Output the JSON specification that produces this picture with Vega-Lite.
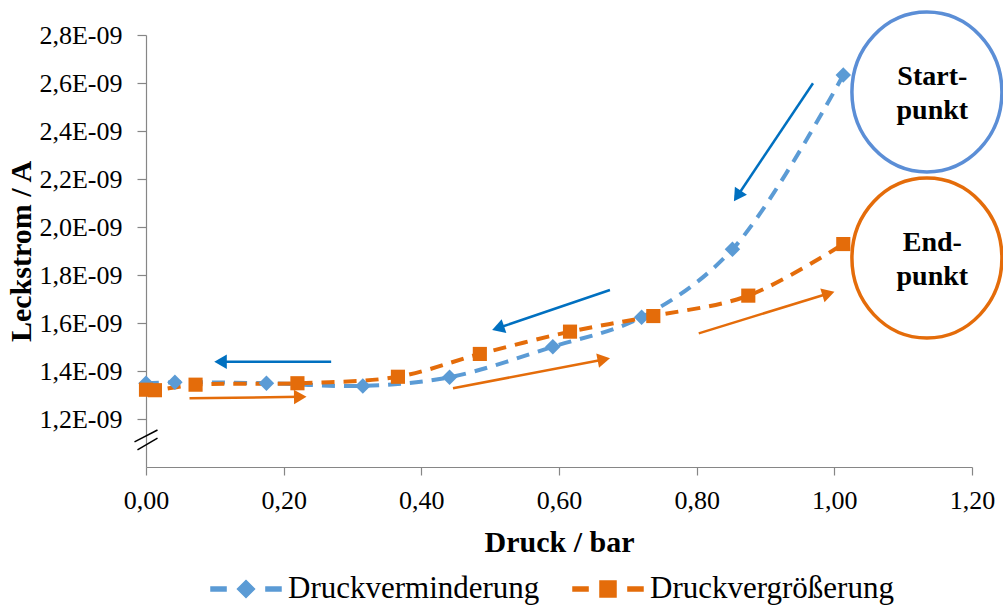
{
  "$schema": "https://vega.github.io/schema/vega-lite/v6.json",
  "width": 826,
  "height": 432,
  "autosize": "none",
  "padding": {"left": 146, "top": 35, "right": 31, "bottom": 138},
  "background": "white",
  "config": {
    "view": {"stroke": null},
    "font": "Liberation Serif",
    "axis": {
      "grid": false,
      "domainColor": "#868686",
      "tickColor": "#868686",
      "domainWidth": 1.2,
      "tickWidth": 1.2,
      "labelFont": "Liberation Serif",
      "labelFontSize": 26,
      "labelColor": "#000000",
      "labelFlush": false,
      "labelOverlap": false,
      "titleFont": "Liberation Serif",
      "titleFontSize": 30,
      "titleFontWeight": "bold",
      "titleColor": "#000000"
    }
  },
  "datasets": {
    "messung": [
      {"druck": 0.0, "strom": 1.349e-9, "reihe": "Druckverminderung"},
      {"druck": 0.042, "strom": 1.353e-9, "reihe": "Druckverminderung"},
      {"druck": 0.175, "strom": 1.349e-9, "reihe": "Druckverminderung"},
      {"druck": 0.315, "strom": 1.338e-9, "reihe": "Druckverminderung"},
      {"druck": 0.441, "strom": 1.374e-9, "reihe": "Druckverminderung"},
      {"druck": 0.591, "strom": 1.501e-9, "reihe": "Druckverminderung"},
      {"druck": 0.72, "strom": 1.624e-9, "reihe": "Druckverminderung"},
      {"druck": 0.852, "strom": 1.907e-9, "reihe": "Druckverminderung"},
      {"druck": 1.013, "strom": 2.633e-9, "reihe": "Druckverminderung"},
      {"druck": 0.0, "strom": 1.322e-9, "reihe": "Druckvergrößerung"},
      {"druck": 0.013, "strom": 1.32e-9, "reihe": "Druckvergrößerung"},
      {"druck": 0.072, "strom": 1.343e-9, "reihe": "Druckvergrößerung"},
      {"druck": 0.22, "strom": 1.349e-9, "reihe": "Druckvergrößerung"},
      {"druck": 0.366, "strom": 1.376e-9, "reihe": "Druckvergrößerung"},
      {"druck": 0.485, "strom": 1.471e-9, "reihe": "Druckvergrößerung"},
      {"druck": 0.616, "strom": 1.564e-9, "reihe": "Druckvergrößerung"},
      {"druck": 0.737, "strom": 1.629e-9, "reihe": "Druckvergrößerung"},
      {"druck": 0.875, "strom": 1.714e-9, "reihe": "Druckvergrößerung"},
      {"druck": 1.013, "strom": 1.929e-9, "reihe": "Druckvergrößerung"}
    ],
    "pfeile": [
      {"x": 0.269, "y": 1.439e-9, "x2": 0.1083, "y2": 1.439e-9, "winkel": 270, "richtung": "ab"},
      {"x": 0.674, "y": 1.7375e-9, "x2": 0.5115, "y2": 1.579e-9, "winkel": 251.2, "richtung": "ab"},
      {"x": 0.969, "y": 2.599e-9, "x2": 0.8592, "y2": 2.129e-9, "winkel": 213.9, "richtung": "ab"},
      {"x": 0.0632, "y": 1.286e-9, "x2": 0.2241, "y2": 1.2925e-9, "winkel": 89.2, "richtung": "auf"},
      {"x": 0.446, "y": 1.328e-9, "x2": 0.6651, "y2": 1.448e-9, "winkel": 79.2, "richtung": "auf"},
      {"x": 0.803, "y": 1.557e-9, "x2": 0.9914, "y2": 1.723e-9, "winkel": 72.9, "richtung": "auf"}
    ],
    "marken": [
      {"x": 1.1345, "y": 2.5625e-9, "tx": 1.1424, "ty": 2.625e-9, "text": "Start-\npunkt", "richtung": "ab"},
      {"x": 1.1345, "y": 1.8708e-9, "tx": 1.1424, "ty": 1.933e-9, "text": "End-\npunkt", "richtung": "auf"}
    ],
    "bruch": [
      {"x": -0.0167, "y": 1.105e-9, "x2": 0.0167, "y2": 1.154e-9},
      {"x": -0.0124, "y": 1.071e-9, "x2": 0.0167, "y2": 1.12e-9}
    ]
  },
  "layer": [
    {
      "data": {"name": "messung"},
      "mark": {"type": "line", "interpolate": "catmull-rom", "strokeWidth": 4, "strokeDash": [13, 9], "strokeCap": "butt"},
      "encoding": {
        "x": {"field": "druck", "type": "quantitative", "scale": {"domain": [0, 1.2], "nice": false},
          "axis": {"values": [0, 0.2, 0.4, 0.6, 0.8, 1.0, 1.2], "labelExpr": "replace(format(datum.value, '.2f'), '.', ',')", "tickSize": 8, "labelPadding": 12, "title": "Druck / bar", "titlePadding": 14}},
        "y": {"field": "strom", "type": "quantitative", "scale": {"domain": [1.0e-9, 2.8e-9], "nice": false, "zero": false},
          "axis": {"values": [1.2e-9, 1.4e-9, 1.6e-9, 1.8e-9, 2.0e-9, 2.2e-9, 2.4e-9, 2.6e-9, 2.8e-9], "labelExpr": "replace(format(datum.value * 1e9, '.1f'), '.', ',') + 'E-09'", "tickSize": 9, "labelPadding": 15, "title": "Leckstrom / A", "titlePadding": 2}},
        "color": {"field": "reihe", "type": "nominal",
          "scale": {"domain": ["Druckverminderung", "Druckvergrößerung"], "range": ["#5B9BD5", "#E46C0A"]},
          "legend": {
            "orient": "none", "legendX": 64, "legendY": 518, "direction": "horizontal", "title": null,
            "symbolSize": 4900, "labelFont": "Liberation Serif", "labelFontSize": 31, "labelColor": "#000000",
            "labelLimit": 0, "labelOffset": 6, "columnPadding": 30, "padding": 0,
            "encode": {"symbols": {"update": {
              "shape": {"signal": "datum.value === 'Druckverminderung' ? 'M-1,-0.057L-0.57,-0.057L-0.57,0.057L-1,0.057Z M0,-0.243L0.243,0L0,0.243L-0.243,0Z M0.57,-0.057L1,-0.057L1,0.057L0.57,0.057Z' : 'M-1,-0.057L-0.57,-0.057L-0.57,0.057L-1,0.057Z M-0.229,-0.229L0.229,-0.229L0.229,0.229L-0.229,0.229Z M0.57,-0.057L1,-0.057L1,0.057L0.57,0.057Z'"},
              "fill": {"signal": "datum.value === 'Druckverminderung' ? '#5B9BD5' : '#E46C0A'"},
              "stroke": {"value": "transparent"},
              "strokeDash": {"value": []},
              "opacity": {"value": 1},
              "fillOpacity": {"value": 1}
            }}}
          }},
        "detail": {"field": "reihe"},
        "order": {"field": "druck"}
      }
    },
    {
      "data": {"name": "messung"},
      "transform": [{"filter": "datum.reihe === 'Druckverminderung'"}],
      "mark": {"type": "point", "shape": "diamond", "filled": true, "size": 240, "opacity": 1},
      "encoding": {
        "x": {"field": "druck", "type": "quantitative"},
        "y": {"field": "strom", "type": "quantitative"},
        "color": {"field": "reihe", "type": "nominal"}
      }
    },
    {
      "data": {"name": "messung"},
      "transform": [{"filter": "datum.reihe === 'Druckvergrößerung'"}],
      "mark": {"type": "point", "shape": "square", "filled": true, "size": 200, "opacity": 1},
      "encoding": {
        "x": {"field": "druck", "type": "quantitative"},
        "y": {"field": "strom", "type": "quantitative"},
        "color": {"field": "reihe", "type": "nominal"}
      }
    },
    {
      "data": {"name": "pfeile"},
      "transform": [{"filter": "datum.richtung === 'ab'"}],
      "mark": {"type": "rule", "color": "#0070C0", "strokeWidth": 2.5},
      "encoding": {
        "x": {"field": "x", "type": "quantitative"},
        "y": {"field": "y", "type": "quantitative"},
        "x2": {"field": "x2"},
        "y2": {"field": "y2"}
      }
    },
    {
      "data": {"name": "pfeile"},
      "transform": [{"filter": "datum.richtung === 'auf'"}],
      "mark": {"type": "rule", "color": "#E46C0A", "strokeWidth": 2.5},
      "encoding": {
        "x": {"field": "x", "type": "quantitative"},
        "y": {"field": "y", "type": "quantitative"},
        "x2": {"field": "x2"},
        "y2": {"field": "y2"}
      }
    },
    {
      "data": {"name": "pfeile"},
      "transform": [{"filter": "datum.richtung === 'ab'"}],
      "mark": {"type": "point", "shape": "triangle-up", "filled": true, "size": 210, "color": "#0070C0", "opacity": 1},
      "encoding": {
        "x": {"field": "x2", "type": "quantitative"},
        "y": {"field": "y2", "type": "quantitative"},
        "angle": {"field": "winkel", "type": "quantitative", "scale": null}
      }
    },
    {
      "data": {"name": "pfeile"},
      "transform": [{"filter": "datum.richtung === 'auf'"}],
      "mark": {"type": "point", "shape": "triangle-up", "filled": true, "size": 210, "color": "#E46C0A", "opacity": 1},
      "encoding": {
        "x": {"field": "x2", "type": "quantitative"},
        "y": {"field": "y2", "type": "quantitative"},
        "angle": {"field": "winkel", "type": "quantitative", "scale": null}
      }
    },
    {
      "data": {"name": "marken"},
      "transform": [{"filter": "datum.richtung === 'ab'"}],
      "mark": {"type": "point", "shape": "M0.9375,0C0.9375,0.5523,0.5178,1,0,1C-0.5178,1,-0.9375,0.5523,-0.9375,0C-0.9375,-0.5523,-0.5178,-1,0,-1C0.5178,-1,0.9375,-0.5523,0.9375,0Z", "filled": false, "size": 25600, "stroke": "#5B8ED6", "strokeWidth": 3.5, "opacity": 1},
      "encoding": {
        "x": {"field": "x", "type": "quantitative"},
        "y": {"field": "y", "type": "quantitative"}
      }
    },
    {
      "data": {"name": "marken"},
      "transform": [{"filter": "datum.richtung === 'auf'"}],
      "mark": {"type": "point", "shape": "M0.9375,0C0.9375,0.5523,0.5178,1,0,1C-0.5178,1,-0.9375,0.5523,-0.9375,0C-0.9375,-0.5523,-0.5178,-1,0,-1C0.5178,-1,0.9375,-0.5523,0.9375,0Z", "filled": false, "size": 25600, "stroke": "#E46C0A", "strokeWidth": 3.5, "opacity": 1},
      "encoding": {
        "x": {"field": "x", "type": "quantitative"},
        "y": {"field": "y", "type": "quantitative"}
      }
    },
    {
      "data": {"name": "marken"},
      "mark": {"type": "text", "font": "Liberation Serif", "fontSize": 28, "fontWeight": "bold", "color": "#000000", "lineBreak": "\n", "lineHeight": 34, "align": "center", "baseline": "middle"},
      "encoding": {
        "x": {"field": "tx", "type": "quantitative"},
        "y": {"field": "ty", "type": "quantitative"},
        "text": {"field": "text"}
      }
    },
    {
      "data": {"name": "bruch"},
      "mark": {"type": "rule", "color": "#000000", "strokeWidth": 1.5},
      "encoding": {
        "x": {"field": "x", "type": "quantitative"},
        "y": {"field": "y", "type": "quantitative"},
        "x2": {"field": "x2"},
        "y2": {"field": "y2"}
      }
    }
  ]
}
